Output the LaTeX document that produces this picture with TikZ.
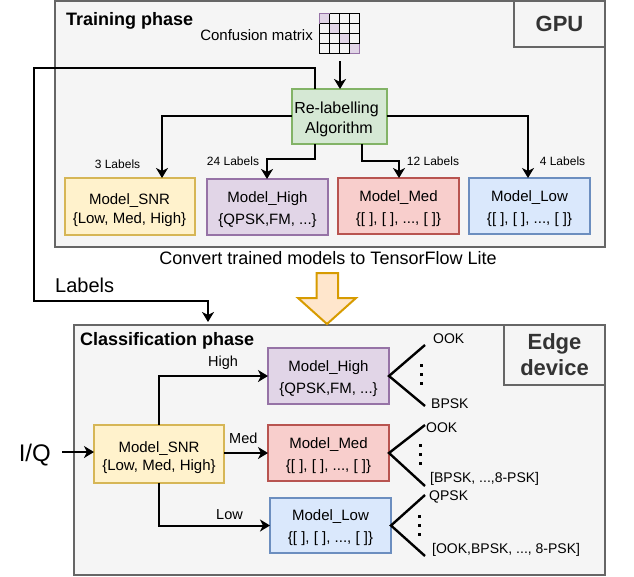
\documentclass[tikz,border=0pt]{standalone}
\usepackage{xcolor}
\usepackage{fontspec}
\setmainfont{Liberation Sans}
\usetikzlibrary{arrows.meta}
\definecolor{PanelFill}{HTML}{F5F5F5}
\definecolor{PanelGray}{HTML}{666666}
\definecolor{SnrFill}{HTML}{FFF2CC}
\definecolor{SnrLine}{HTML}{D6B656}
\definecolor{HighFill}{HTML}{E1D5E7}
\definecolor{HighLine}{HTML}{9673A6}
\definecolor{MedFill}{HTML}{F8CECC}
\definecolor{MedLine}{HTML}{B85450}
\definecolor{LowFill}{HTML}{DAE8FC}
\definecolor{LowLine}{HTML}{6C8EBF}
\definecolor{AlgoFill}{HTML}{D5E8D4}
\definecolor{AlgoLine}{HTML}{82B366}
\definecolor{ConvFill}{HTML}{FFE6CC}
\definecolor{ConvLine}{HTML}{D79B00}
\newcommand{\fs}[2]{\fontsize{#1}{#2}\selectfont}

\begin{document}
\begin{tikzpicture}[
            x=1pt, y=-1pt,
            panel/.style={rectangle, draw=PanelGray, fill=PanelFill, line width=2pt, anchor=north west,
                          inner sep=0pt, outer sep=0pt},
            tagbx/.style={panel, align=center, font=\fs{22}{26}\bfseries, text=black!80},
            textdrop/.style={execute at begin node={\rule{0pt}{#1}}},
            bx/.style={rectangle, line width=2pt, align=center, font=\fs{15}{19}, inner sep=0pt, outer sep=0pt,
                       minimum width=119pt, minimum height=55pt, textdrop=38pt},
            snrbx/.style={bx, fill=SnrFill, draw=SnrLine, minimum width=130pt, minimum height=57pt, textdrop=35pt},
            highbx/.style={bx, fill=HighFill, draw=HighLine, font=\fs{15}{22}},
            medbx/.style={bx, fill=MedFill, draw=MedLine, font=\fs{15}{22}},
            lowbx/.style={bx, fill=LowFill, draw=LowLine, font=\fs{15}{22}},
            arr/.style={-{Stealth[length=10pt,width=12pt,inset=3pt]}, draw=black, line width=2pt},
            fan/.style={draw=black, line width=2.4pt},
            lbl/.style={font=\fs{14}{16}, anchor=west, inner sep=0pt},
            arrlbl/.style={font=\fs{14.5}{16}, anchor=west, inner sep=0pt},
            small/.style={font=\fs{12}{14}, inner sep=0pt},
            dotcol/.style={draw=black, line width=3pt, dash pattern=on 3pt off 6pt}
          ]
          \useasboundingbox (0,0) rectangle (634,576);
          % panels
          \node[panel, minimum width=550pt, minimum height=246pt] (trainPanel) at (55,1) {};
          \node[panel, minimum width=531pt, minimum height=250pt] (edgePanel) at (74,325) {};
          \node[tagbx, minimum width=91pt, minimum height=46pt] (gpuTag) at (514,1) {GPU};
          \node[tagbx, minimum width=101pt, minimum height=60pt] (edgeTag) at (504,325) {Edge\\device};
          \node[font=\fs{18}{20}\bfseries, anchor=west, inner sep=0pt] (trainTitle) at (66,21) {Training phase};
          \node[font=\fs{18}{20}\bfseries, anchor=west, inner sep=0pt] (classTitle) at (80,341) {Classification phase};
          % confusion matrix
          \foreach \i in {0,...,3}
            \fill[HighFill] (319.5+10*\i,13.5+10*\i) rectangle ++(10,10);
          \foreach \i in {0,...,4} {
            \draw[black, line width=0.9pt] (319.5+10*\i,13.5) -- (319.5+10*\i,53.5);
            \draw[black, line width=0.9pt] (319.5,13.5+10*\i) -- (359.5,13.5+10*\i);
          }
          \draw[HighLine, line width=0.9pt] (319.5,23.5) -- (319.5,13.5) -- (329.5,13.5);
          \draw[HighLine, line width=0.9pt] (349.5,53.5) -- (359.5,53.5) -- (359.5,43.5);
          \node[font=\fs{15}{18}, anchor=east, inner sep=0pt] (matrixText) at (313,35) {Confusion matrix};
          \coordinate (matrixOut) at (340,61);
          % training phase
          \node[bx, fill=AlgoFill, draw=AlgoLine, minimum width=95pt, minimum height=55pt, font=\fs{16}{20}, textdrop=37pt]
                (relabel) at (339,116.5) {Re-labelling\hspace*{5pt}\\Algorithm};
          \node[snrbx] (trainSnr) at (129.5,206.5) {Model\_SNR\\{\{Low, Med, High\}}};
          \node[highbx, minimum width=121pt, minimum height=56pt] (trainHigh) at (267.5,207) {Model\_High\\{\{QPSK,FM, ...\}}};
          \node[medbx, minimum width=121pt, minimum height=56pt] (trainMed) at (398.5,206) {Model\_Med\\{\{[ ], [ ], ..., [ ]\}}};
          \node[lowbx, minimum width=121pt, minimum height=56pt] (trainLow) at (529.5,206) {Model\_Low\\{\{[ ], [ ], ..., [ ]\}}};
          \node[small] (snrCount) at (117.5,164) {3 Labels};
          \node[small] (highCount) at (233,161) {24 Labels};
          \node[small] (medCount) at (433,161) {12 Labels};
          \node[small] (lowCount) at (562.5,161) {4 Labels};
          \coordinate (relabelHigh) at (315,144);
          \coordinate (relabelMed) at (362,144);
          \coordinate (relabelBack) at (315,89);
          \coordinate (highIn) at (267,179);
          \coordinate (medIn) at (399,178);
          \coordinate (snrIn) at (162,178);
          \coordinate (lowIn) at (528,178);
          \coordinate (relabelIn) at (340,89);
          \coordinate (classIn) at (208,322);
          \draw[arr] (matrixOut) -- (relabelIn);
          \draw[arr] (relabel.west |- 0,116) -| (snrIn);
          \draw[arr] (relabel.east |- 0,116) -| (lowIn);
          \draw[arr] (relabelHigh) -- (315,159) -| (highIn);
          \draw[arr] (relabelMed) -- (362,161) -| (medIn);
          \draw[arr] (relabelBack) -- (315,68) -- (34,68) -- (34,301) -| (classIn);
          \node[font=\fs{20}{22}, anchor=west, inner sep=0pt] (labelsText) at (55,285) {Labels};
          % conversion
          \node[font=\fs{18}{20}, inner sep=0pt] (convertText) at (328,258) {Convert trained models to TensorFlow Lite};
          \draw[draw=ConvLine, fill=ConvFill, line width=2pt, line join=miter]
                (316.5,273) -- (338,273) -- (338,298) -- (356,298) -- (327,324) -- (298,298) -- (316.5,298) -- cycle;
          % classification phase
          \node[snrbx, minimum height=58pt, font=\fs{15}{18}, textdrop=31pt] (edgeSnr) at (159,453.5) {Model\_SNR\\{\{Low, Med, High\}}};
          \node[highbx, minimum width=121pt, minimum height=56pt] (edgeHigh) at (328.5,376) {Model\_High\\{\{QPSK,FM, ...\}}};
          \node[medbx, minimum width=121pt, minimum height=56pt] (edgeMed) at (328.5,453) {Model\_Med\\{\{[ ], [ ], ..., [ ]\}}};
          \node[lowbx, minimum width=121pt, minimum height=55pt] (edgeLow) at (330.5,525.5) {Model\_Low\\{\{[ ], [ ], ..., [ ]\}}};
          \node[font=\fs{24}{26}, anchor=east, inner sep=0pt] (iqText) at (51,455) {I/Q};
          \coordinate (iqOut) at (62,452);
          \draw[arr] (iqOut) -- (edgeSnr.west |- iqOut);
          \draw[arr] (edgeSnr.north) |- (edgeHigh.west);
          \draw[arr] (edgeSnr.east |- edgeMed.west) -- (edgeMed.west);
          \draw[arr] (edgeSnr.south) |- (edgeLow.west);
          \node[arrlbl] (highText) at (208,363) {High};
          \node[arrlbl] (medText) at (229,438) {Med};
          \node[arrlbl] (lowText) at (216,515) {Low};
          % outputs
          \node[lbl] (ookA) at (433,339) {OOK};
          \node[lbl] (bpskA) at (431,404) {BPSK};
          \node[lbl] (ookB) at (426,428) {OOK};
          \node[lbl] (bpskB) at (430,479) {[BPSK, ...,8-PSK]};
          \node[lbl] (qpskC) at (429,497) {QPSK};
          \node[lbl] (ookC) at (432,550) {[OOK,BPSK, ..., 8-PSK]};
          \coordinate (fanAup) at (425,345);
          \coordinate (fanAdn) at (425,406);
          \coordinate (fanBup) at (425,425);
          \coordinate (fanBdn) at (425,486);
          \coordinate (fanCup) at (425,495);
          \coordinate (fanCdn) at (425,556);
          \draw[fan] (fanAup) -- (edgeHigh.east) -- (fanAdn);
          \draw[fan] (fanBup) -- (edgeMed.east) -- (fanBdn);
          \draw[fan] (fanCup) -- (edgeLow.east) -- (fanCdn);
          \draw[dotcol] (421,364) -- (421,385);
          \draw[dotcol] (420,444) -- (420,465);
          \draw[dotcol] (419,515) -- (419,536);
        \end{tikzpicture}
\end{document}
